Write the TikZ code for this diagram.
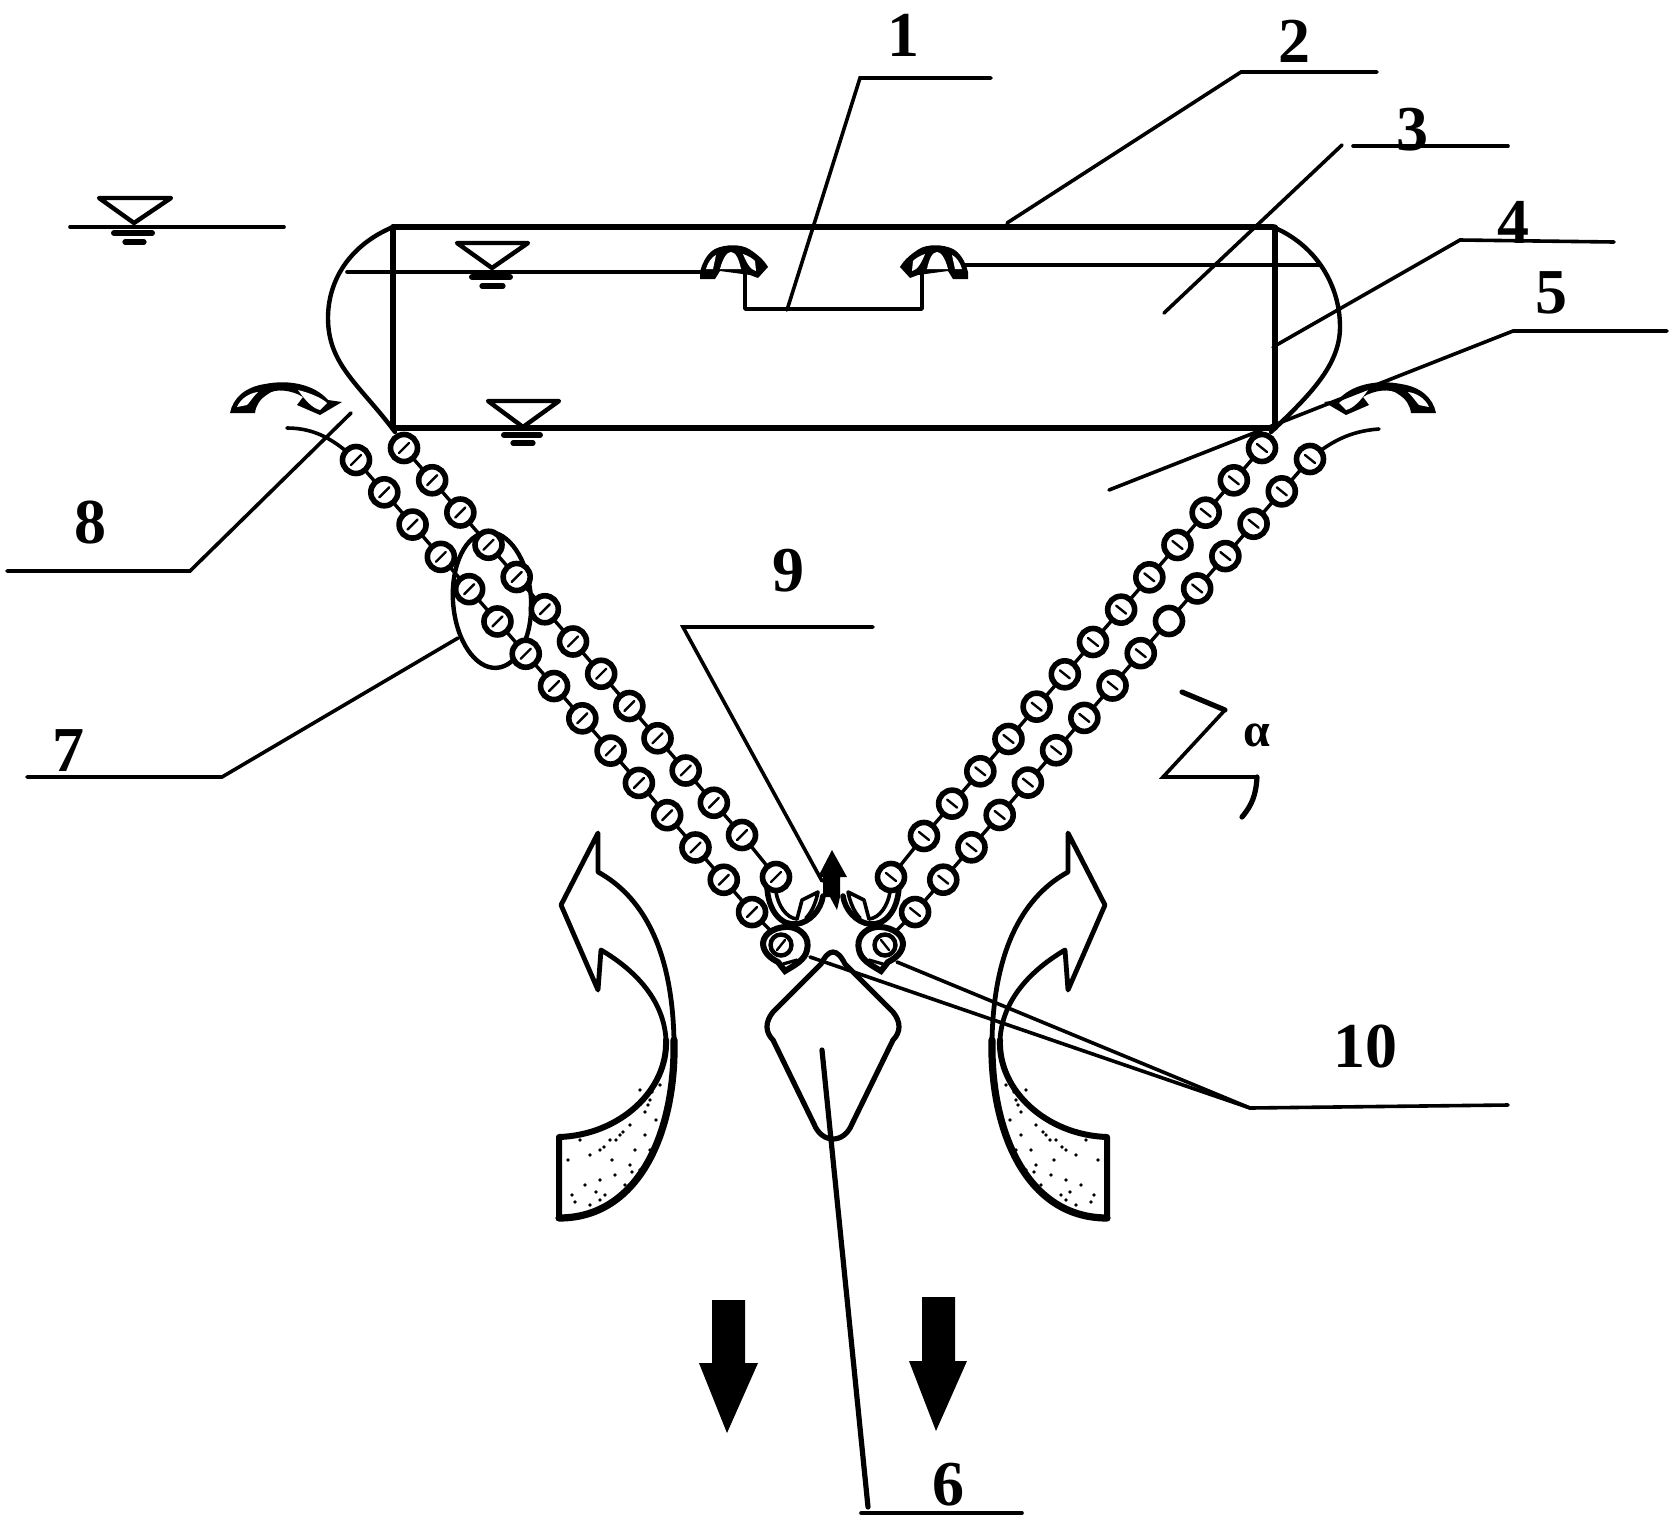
\documentclass[tikz,border=0pt]{standalone}
\usepackage{fontspec}
\setmainfont{Liberation Serif}
\newcommand\bead[3]{% x y slash-style
  \draw[beadline,fill=white] (#1,#2) circle (13.5);
  \draw[line width=1.2pt] ({#1-5},{#2+#3}) -- ({#1+5},{#2-#3});
}
\newcommand\beadplain[2]{\draw[beadline,fill=white] (#1,#2) circle (13.5);}
\newcommand\mush[1]{%
  \begin{scope}[#1]
  \fill (-33,0) .. controls (-30,-12) and (-24,-20) .. (-18,-23) .. controls (-8,-28) and (8,-28) .. (16,-23) .. controls (24,-18) and (31,-12) .. (35,-5) -- (25,6) -- (17,3) -- (-13,-1) -- (-18,7) -- (-33,7) -- cycle;
  \fill[white] (-13,-3) .. controls (-10,-14) and (-6,-20) .. (-2,-20) .. controls (3,-20) and (6,-12) .. (8,-3) -- cycle;
  \fill[white] (-27,-3) .. controls (-25,-10) and (-21,-15) .. (-17,-17) -- (-20,-3) -- cycle;
  \fill[white] (10,-18) .. controls (16,-16) and (20,-13) .. (22,-11) -- (23,-1) .. controls (18,-2) and (14,-8) .. (10,-18) -- cycle;
  \end{scope}}
\newcommand\sidearrow{%
  \fill (230,413) .. controls (233,398) and (245,387) .. (265,384) .. controls (290,379) and (315,385) .. (328,400) -- (342,402) -- (320,415) -- (297,405) -- (303,397) .. controls (292,390) and (275,388) .. (268,394) .. controls (260,399) and (256,405) .. (255,413) -- cycle;
  \fill[white] (237,407) .. controls (241,398) and (250,393) .. (258,392) .. controls (252,398) and (250,402) .. (247,405) -- cycle;
  \fill[white] (298,390) .. controls (310,393) and (322,398) .. (327,403) -- (320,410) .. controls (312,408) and (305,400) .. (298,390) -- cycle;
}
\newcommand\bigarrow{%
  \path[fill=white] (559,1137) .. controls (620,1135) and (668,1090) .. (666,1040) .. controls (664,1000) and (635,970) .. (601,950) -- (598,990) -- (561,905) -- (598,833) -- (598,872) .. controls (640,895) and (672,945) .. (674,1040) .. controls (676,1130) and (640,1218) .. (559,1218) -- cycle;
  \draw[line width=2.4pt,line join=round] (666,1040) .. controls (664,1000) and (635,970) .. (601,950) -- (598,990) -- (561,905) -- (598,833) -- (598,872) .. controls (640,895) and (672,945) .. (674,1040);
  \draw[line width=3pt,line join=round] (559,1218) -- (559,1137) .. controls (620,1135) and (668,1090) .. (666,1040);
  \draw[line width=3.6pt,line join=round] (674,1040) .. controls (676,1130) and (640,1218) .. (559,1218);
  \foreach \px/\py in {640/1090,650/1100,645/1112,630/1125,620/1135,610/1140,600/1150,590/1155,625/1185,605/1195,590/1205,575/1202,640/1170,650/1150,630/1165,615/1175,568/1160,656/1120,600/1180,585/1185,645/1135,580/1140,635/1150,660/1085,612/1160,572/1195,652/1092,648/1105,616/1140,623/1132,604/1147,596/1192,600/1200,632/1172}
    \fill (\px,\py) circle (1.8);
}
\newcommand\hookcurve{%
  \draw[line width=2.8pt] (767,886) .. controls (768,912) and (782,926) .. (797,924) .. controls (810,922) and (821,910) .. (823,896);
  \draw[line width=1.8pt] (776,892) .. controls (778,905) and (786,918) .. (797,919);
  \draw[line width=1.8pt,line join=round] (797,919) -- (802,900) -- (818,892) .. controls (816,902) and (812,912) .. (806,918);
}
\newcommand\tipblob{%
  \draw[line width=3pt,fill=white] (763,943) .. controls (764,932) and (778,926) .. (790,927) .. controls (802,929) and (810,938) .. (807,950) .. controls (805,960) and (795,965) .. (785,971) -- (778,962) .. controls (770,958) and (763,952) .. (763,943) -- cycle;
  \draw[line width=2.2pt,fill=white] (781,945) circle (10.5);
  \draw[line width=1.2pt] (777,950) -- (785,940);
  \draw[line width=1.6pt] (783,964) -- (797,960);
}
\begin{document}
\begin{tikzpicture}[x=0.5pt,y=-0.5pt,
  beadline/.style={line width=2.8pt},
  link/.style={line width=1.7pt},
  leader/.style={line width=1.8pt},
  tankline/.style={line width=2.8pt},
  thinline/.style={line width=1.8pt},
  numlabel/.style={font=\fontsize{32pt}{32pt}\selectfont\bfseries,inner sep=0pt},
  mirrored/.style={shift={(1666,0)},xscale=-1},
  line cap=round]
\useasboundingbox (0,0) rectangle (1672,1522);

% section mark
\coordinate (a1) at (1182,692);\coordinate (a2) at (1225,710);\coordinate (a3) at (1163,777);\coordinate (a4) at (1257,777);\coordinate (a5) at (1242,817);
\draw[line width=1.8pt,line join=miter] (a2) -- (a3) -- (a4);
\draw[line width=2.6pt] (a1) -- (a2);
\draw[line width=2.6pt] (a4) .. controls (1256,795) and (1252,805) .. (a5);
\node[inner sep=0pt,font=\fontsize{24pt}{24pt}\selectfont\bfseries] (alpha) at (1257,735) {α};

% water level symbols
\draw[thinline] (70,227) -- (284,227);
\draw[line width=2.2pt,line join=round] (99,198) -- (171,198) -- (134,223) -- cycle;
\draw[line width=3pt] (114,233) -- (152,233);
\draw[line width=2.6pt] (125,242) -- (144,242);

\draw[line width=2.2pt,line join=round] (457,243) -- (528,243) -- (492,268) -- cycle;
\draw[line width=3pt] (472,277) -- (510,277);
\draw[line width=2.6pt] (482,286) -- (503,286);

\draw[line width=2.2pt,line join=round] (488,401) -- (559,401) -- (523,427) -- cycle;
\draw[line width=3pt] (504,435) -- (540,435);
\draw[line width=2.6pt] (513,443) -- (533,443);

% tank
\draw[tankline] (393,227) -- (1273,227);
\draw[tankline] (393,428) -- (1273,428);
\draw[line width=2.6pt] (393,227) -- (393,428);
\draw[line width=2.6pt] (1275,227) -- (1275,428);
\draw[line width=2.2pt] (393,227) .. controls (350,245) and (328,280) .. (328,318) .. controls (328,365) and (360,385) .. (395,432);
\draw[line width=2.2pt] (1273,227) .. controls (1316,245) and (1340,285) .. (1340,327) .. controls (1340,365) and (1310,395) .. (1271,432);

% inner water lines and siphon
\draw[thinline] (347,272) -- (700,272);
\draw[thinline] (923,265) -- (1319,265);
\draw[line width=1.8pt,line join=round] (745,272) -- (745,309) -- (922,309) -- (922,272);
\mush{shift={(733,272)}}
\mush{shift={(935,272)},xscale=-1}

% curved side arrows
\sidearrow
\begin{scope}[mirrored]\sidearrow\end{scope}

% big curved arrows
\bigarrow
\begin{scope}[mirrored]\bigarrow\end{scope}

% ellipse of label 7
\draw[line width=2.2pt] (492,600) ellipse [x radius=39,y radius=68,rotate=4];

% chains: links
\draw[link] (404,448) -- (742,835) -- (776,877);
\draw[link] (356,460) -- (752,912) -- (785,945);
\draw[link] (1262,448) -- (924,836) -- (891,877);
\draw[link] (1310,459) -- (915,912) -- (882,945);
\draw[line width=1.8pt] (287,428) .. controls (315,428) and (335,440) .. (356,460);
\draw[line width=1.8pt] (1379,429) .. controls (1350,431) and (1330,442) .. (1310,459);

% hooks below inner chain
\hookcurve
\begin{scope}[mirrored]\hookcurve\end{scope}

% beads
\foreach \i in {0,...,12}{
  \bead{\fpeval{404+28.17*\i}}{\fpeval{448+32.25*\i}}{5}
  \bead{\fpeval{1262-28.17*\i}}{\fpeval{448+32.33*\i}}{-4}
}
\foreach \i in {0,...,14}{
  \bead{\fpeval{356+28.29*\i}}{\fpeval{460+32.29*\i}}{5}
}
\foreach \i in {0,1,2,3,4,6,7,8,9,10,11,12,13,14}{
  \bead{\fpeval{1310-28.21*\i}}{\fpeval{459+32.36*\i}}{-4}
}
\beadplain{1169}{621}
\bead{776}{877}{5}
\bead{891}{877}{-4}

% end blobs
\tipblob
\begin{scope}[mirrored]\tipblob\end{scope}

% diamond
\draw[line width=2.6pt,line join=round] (821,964) .. controls (829,948) and (837,948) .. (845,964) -- (893,1012) .. controls (901,1022) and (901,1032) .. (893,1040) -- (852,1124) .. controls (844,1144) and (822,1144) .. (814,1124) -- (773,1040) .. controls (765,1032) and (765,1022) .. (773,1012) -- cycle;

% up arrow
\fill (832,850) -- (847,877) -- (840,877) -- (840,897) -- (837,910) -- (830,897) -- (823,897) -- (823,877) -- (818,877) -- cycle;

% down arrows
\fill (712,1300) -- (745,1300) -- (745,1363) -- (758,1363) -- (727,1433) -- (699,1363) -- (712,1363) -- cycle;
\fill (922,1297) -- (955,1297) -- (955,1361) -- (967,1361) -- (936,1431) -- (909,1361) -- (922,1361) -- cycle;

% labels
\node[numlabel] (n1) at (903,35) {1};
\node[numlabel] (n2) at (1294,41) {2};
\node[numlabel] (n3) at (1412,130) {3};
\node[numlabel] (n4) at (1513,222) {4};
\node[numlabel] (n5) at (1551,293) {5};
\node[numlabel] (n6) at (948,1485) {6};
\node[numlabel] (n7) at (69,751) {7};
\node[numlabel] (n8) at (90,523) {8};
\node[numlabel] (n9) at (788,571) {9};
\node[numlabel] (n10) at (1365,1047) {10};

% leaders
\draw[leader] (787,310) -- (860,78) -- (991,78);
\draw[leader] (1007,223) -- (1241,72) -- (1377,72);
\draw[leader] (1164,313) -- (1342,145);
\draw[leader] (1353,146) -- (1508,146);
\draw[leader] (1273,347) -- (1460,240) -- (1614,242);
\draw[leader] (1109,490) -- (1513,331) -- (1667,331);
\draw[leader] (351,413) -- (190,571) -- (7,571);
\draw[leader] (458,638) -- (222,777) -- (27,777);
\draw[leader] (822,881) -- (683,627) -- (873,627);
\draw[leader] (810,957) -- (1250,1108) -- (1508,1105);
\draw[leader] (897,962) -- (1250,1108);
\draw[line width=2.6pt] (822,1050) -- (868,1507);
\draw[leader] (861,1513) -- (1022,1513);
\end{tikzpicture}
\end{document}
